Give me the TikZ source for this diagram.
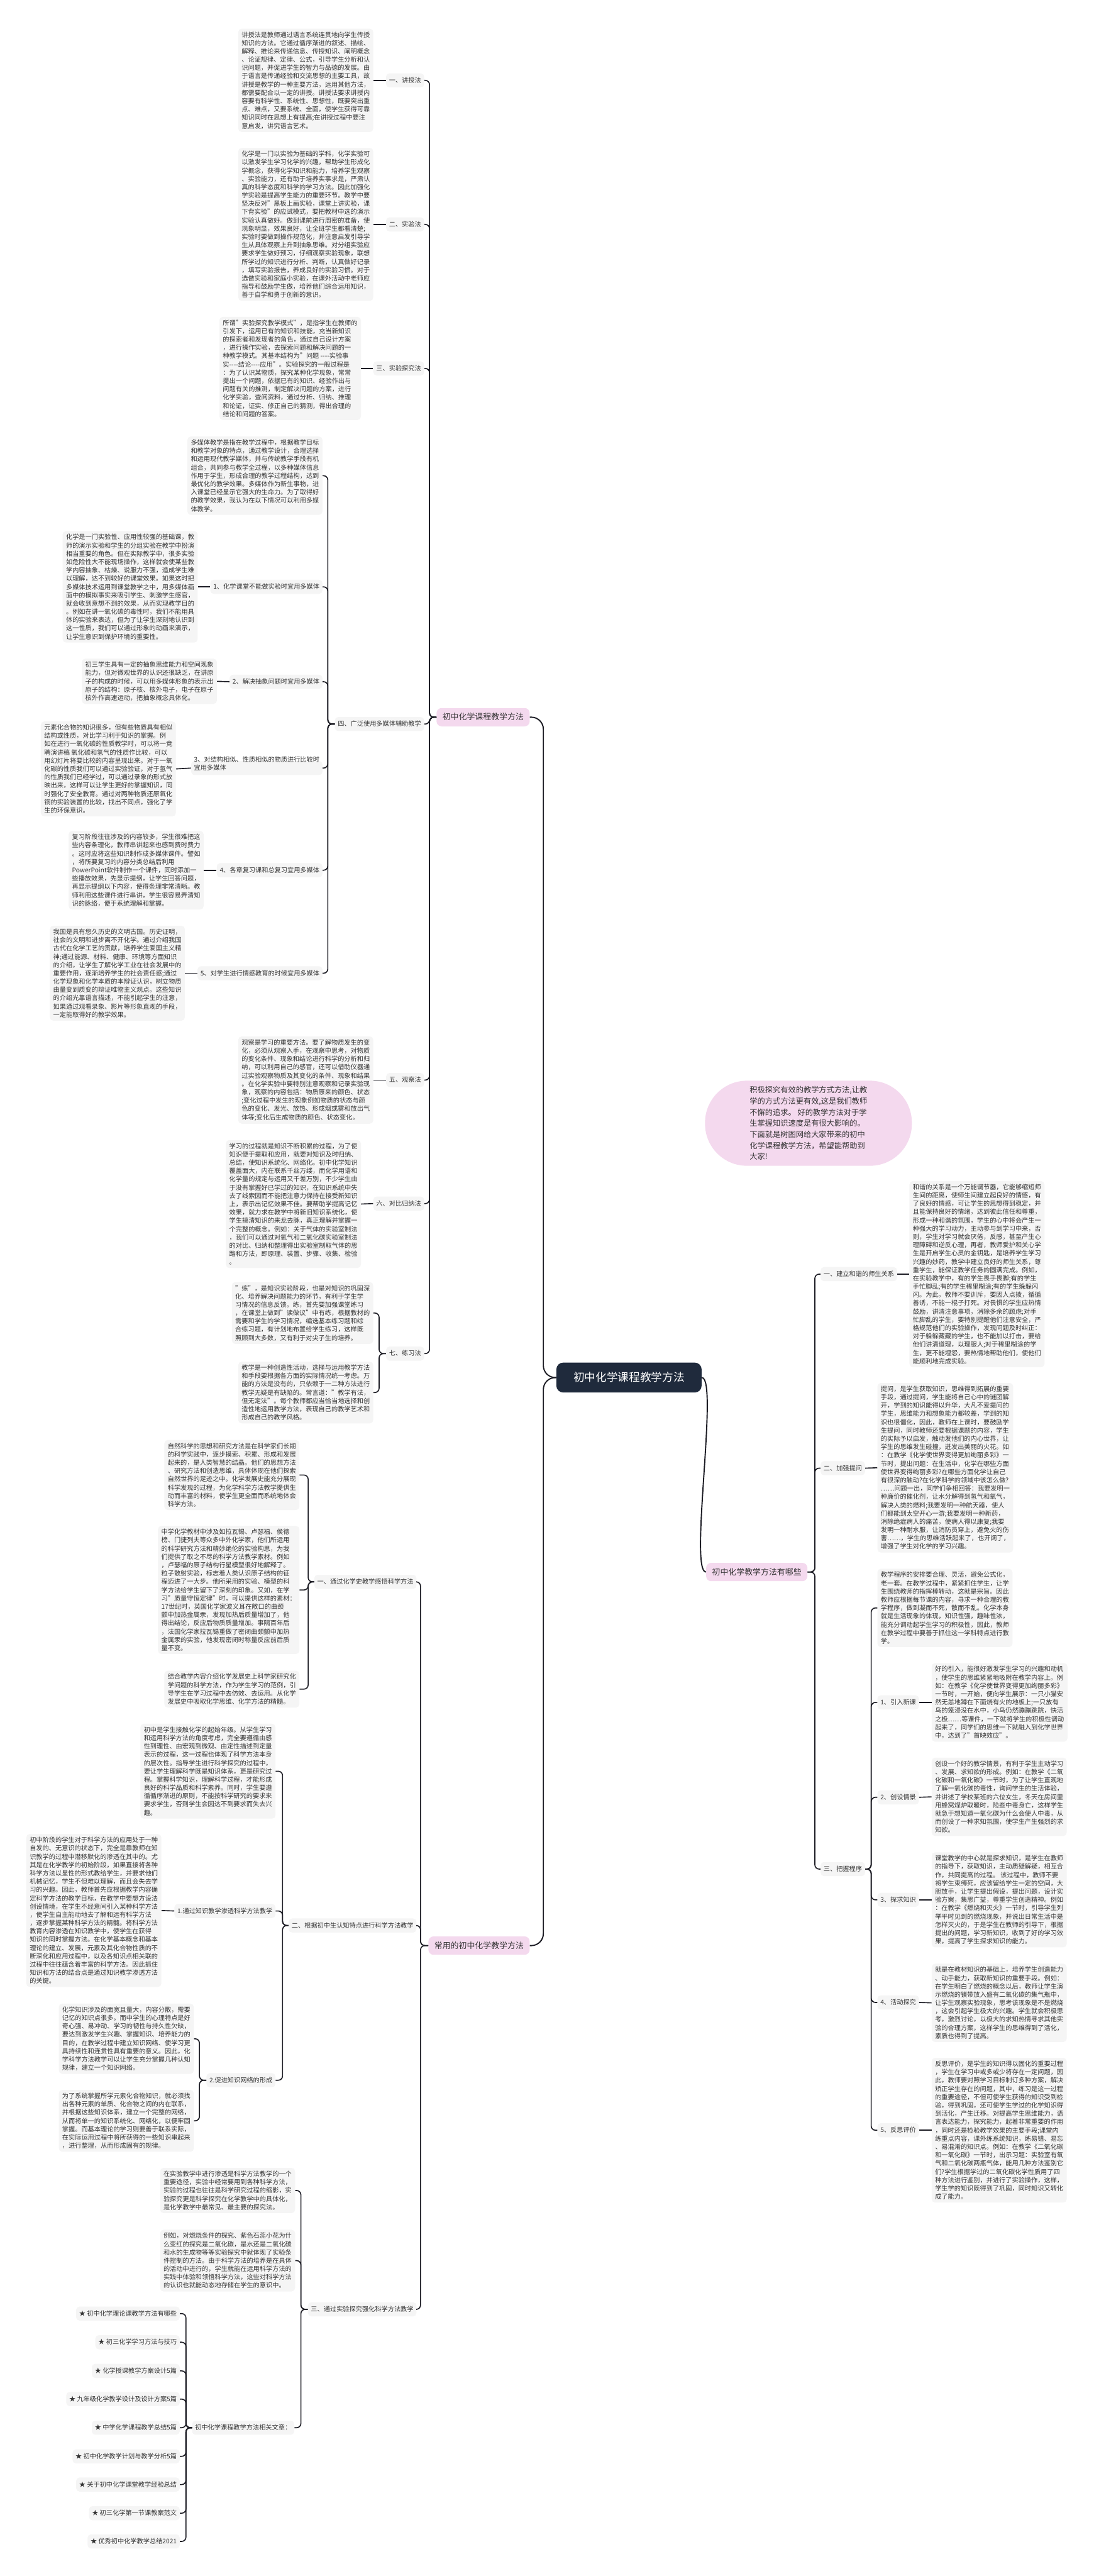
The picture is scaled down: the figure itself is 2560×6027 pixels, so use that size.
\documentclass[tikz,border=0pt]{standalone}
\usepackage{fontspec}
\setmainfont{Noto Sans CJK SC}
\definecolor{linec}{HTML}{1C1C24}
\definecolor{boxc}{HTML}{F5F5F5}
\definecolor{txtc}{HTML}{333333}
\definecolor{pinkc}{HTML}{F4D9EE}
\definecolor{rootc}{HTML}{1F2A3C}
\tikzset{
 blk/.style={fill=boxc, rounded corners=4pt, inner xsep=4pt, inner ysep=3.5pt, align=left, font=\fontsize{7.5}{9.7}\selectfont, text=txtc},
 lbl/.style={fill=boxc, rounded corners=4pt, inner xsep=3.5pt, inner ysep=4.5pt, align=left, font=\fontsize{7.5}{9.7}\selectfont, text=txtc, text height=6.4pt, text depth=1.1pt},
 mainn/.style={fill=pinkc, rounded corners=6pt, inner xsep=7pt, inner ysep=6pt, font=\fontsize{9.5}{11}\selectfont, text=txtc, text height=8pt, text depth=1.5pt},
 rootn/.style={fill=rootc, rounded corners=8pt, text=white, font=\fontsize{13}{15}\selectfont, inner xsep=20pt, inner ysep=11pt, text height=11pt, text depth=2pt},
 bubn/.style={fill=pinkc, rounded corners=49pt, minimum width=242pt, minimum height=99.5pt, align=left, font=\fontsize{9}{13}\selectfont, text=txtc},
 conn/.style={draw=linec, line width=1.2pt, rounded corners=5pt},
 rconn/.style={draw=linec, line width=1.4pt, rounded corners=14pt},
}
\begin{document}
\begin{tikzpicture}[x=0.5pt,y=-0.5pt]
\fill[white] (0,0) rectangle (2560,6027);
\useasboundingbox (0,0) rectangle (2560,6027);

% ---------------- root and bubble
\node[rootn] (root) at (1472,3223) {初中化学课程教学方法};
\node[bubn] (bub) at (1892,2628) {积极探究有效的教学方式方法,让教\\%
学的方式方法更有效,这是我们教师\\%
不懈的追求。 好的教学方法对于学\\%
生掌握知识速度是有很大影响的。\\%
下面就是树图网给大家带来的初中\\%
化学课程教学方法，希望能帮助到\\%
大家!};

% ---------------- main nodes
\node[mainn, anchor=east] (b1) at (1240,1678) {初中化学课程教学方法};
\node[mainn, anchor=east] (b2) at (1890,3678) {初中化学教学方法有哪些};
\node[mainn, anchor=east] (b3) at (1240,4552) {常用的初中化学教学方法};

% ================= Branch 1
\node[lbl, anchor=east] (a1) at (993,188) {一、讲授法};
\node[blk, anchor=east] (a1t) at (874,188) {讲授法是教师通过语言系统连贯地向学生传授\\%
知识的方法。它通过循序渐进的叙述、描绘、\\%
解释、推论来传递信息、传授知识、阐明概念\\%
、论证规律、定律、公式，引导学生分析和认\\%
识问题，并促进学生的智力与品德的发展。由\\%
于语言是传递经验和交流思想的主要工具，故\\%
讲授是教学的一种主要方法，运用其他方法，\\%
都需要配合以一定的讲授。讲授法要求讲授内\\%
容要有科学性、系统性、思想性，既要突出重\\%
点、难点，又要系统、全面，使学生获得可靠\\%
知识同时在思想上有提高;在讲授过程中要注\\%
意启发，讲究语言艺术。};

\node[lbl, anchor=east] (a2) at (993,525) {二、实验法};
\node[blk, anchor=east] (a2t) at (874,525) {化学是一门以实验为基础的学科，化学实验可\\%
以激发学生学习化学的兴趣，帮助学生形成化\\%
学概念，获得化学知识和能力，培养学生观察\\%
、实验能力，还有助于培养实事求是，严肃认\\%
真的科学态度和科学的学习方法。因此加强化\\%
学实验是提高学生能力的重要环节。教学中要\\%
坚决反对"黑板上画实验，课堂上讲实验，课\\%
下背实验"的应试模式，要把教材中选的演示\\%
实验认真做好。做到课前进行周密的准备，使\\%
现象明显，效果良好，让全班学生都看清楚;\\%
实验时要做到操作规范化，并注意启发引导学\\%
生从具体观察上升到抽象思维。对分组实验应\\%
要求学生做好预习，仔细观察实验现象，联想\\%
所学过的知识进行分析、判断，认真做好记录\\%
，填写实验报告，养成良好的实验习惯。对于\\%
选做实验和家庭小实验，在课外活动中老师应\\%
指导和鼓励学生做，培养他们综合运用知识，\\%
善于自学和勇于创新的意识。};

\node[lbl, anchor=east] (a3) at (993,862) {三、实验探究法};
\node[blk, anchor=east] (a3t) at (845,862) {所谓"实验探究教学模式"，是指学生在教师的\\%
引发下，运用已有的知识和技能，充当新知识\\%
的探索者和发现者的角色，通过自己设计方案\\%
，进行操作实验，去探索问题和解决问题的一\\%
种教学模式。其基本结构为"问题 -{}-{}-{}-实验事\\%
实-{}-{}-{}-结论-{}-{}-{}-应用"。实验探究的一般过程是\\%
：为了认识某物质，探究某种化学现象，常常\\%
提出一个问题，依据已有的知识、经验作出与\\%
问题有关的推测，制定解决问题的方案，进行\\%
化学实验，查阅资料，通过分析、归纳、推理\\%
和论证，证实、修正自己的猜测，得出合理的\\%
结论和问题的答案。};

\node[lbl, anchor=east] (a4) at (993,1694) {四、广泛使用多媒体辅助教学};
\node[blk, anchor=east] (a4t0) at (755,1113) {多媒体教学是指在教学过程中，根据教学目标\\%
和教学对象的特点，通过教学设计，合理选择\\%
和运用现代教学媒体，并与传统教学手段有机\\%
组合，共同参与教学全过程，以多种媒体信息\\%
作用于学生，形成合理的教学过程结构，达到\\%
最优化的教学效果。多媒体作为新生事物，进\\%
入课堂已经显示它强大的生命力。为了取得好\\%
的教学效果，我认为在以下情况可以利用多媒\\%
体教学。};
\node[lbl, anchor=east] (a41) at (755,1373) {1、化学课堂不能做实验时宜用多媒体};
\node[blk, anchor=east] (a41t) at (463,1373) {化学是一门实验性、应用性较强的基础课，教\\%
师的演示实验和学生的分组实验在教学中扮演\\%
相当重要的角色。但在实际教学中，很多实验\\%
如危险性大不能现场操作，这样就会使某些教\\%
学内容抽象、枯燥、说服力不强，造成学生难\\%
以理解，达不到较好的课堂效果。如果这时把\\%
多媒体技术运用到课堂教学之中，用多媒体画\\%
面中的模拟事实来吸引学生、刺激学生感官，\\%
就会收到意想不到的效果，从而实现教学目的\\%
。例如在讲一氧化碳的毒性时，我们不能用具\\%
体的实验来表达，但为了让学生深刻地认识到\\%
这一性质，我们可以通过形象的动画来演示，\\%
让学生意识到保护环境的重要性。};
\node[lbl, anchor=east] (a42) at (755,1595) {2、解决抽象问题时宜用多媒体};
\node[blk, anchor=east] (a42t) at (508,1594) {初三学生具有一定的抽象思维能力和空间现象\\%
能力，但对微观世界的认识还很缺乏，在讲原\\%
子的构成的时候，可以用多媒体形象的表示出\\%
原子的结构：原子核、核外电子，电子在原子\\%
核外作高速运动，把抽象概念具体化。};
\node[lbl, anchor=east] (a43) at (755,1797) {3、对结构相似、性质相似的物质进行比较时\\宜用多媒体};
\node[blk, anchor=east] (a43t) at (412,1799) {元素化合物的知识很多，但有些物质具有相似\\%
结构或性质，对比学习利于知识的掌握。例\\%
如在进行一氧化碳的性质教学时，可以将一竞\\%
聘演讲稿 氧化碳和氢气的性质作比较，可以\\%
用幻灯片将要比较的内容呈现出来。对于一氧\\%
化碳的性质我们可以通过实验验证，对于氢气\\%
的性质我们已经学过，可以通过录象的形式放\\%
映出来，这样可以让学生更好的掌握知识，同\\%
时强化了安全教育。通过对两种物质还原氧化\\%
铜的实验装置的比较，找出不同点，强化了学\\%
生的环保意识。};
\node[lbl, anchor=east] (a44) at (755,2036) {4、各章复习课和总复习宜用多媒体};
\node[blk, anchor=east] (a44t) at (477,2036) {复习阶段往往涉及的内容较多，学生很难把这\\%
些内容条理化，教师串讲起来也感到费时费力\\%
。这时应将这些知识制作成多媒体课件。譬如\\%
，将所要复习的内容分类总结后利用\\%
PowerPoint软件制作一个课件，同时添加一\\%
些播放效果，先显示提纲，让学生回答问题，\\%
再显示提纲以下内容，使得条理非常清晰。教\\%
师利用这些课件进行串讲，学生很容易弄清知\\%
识的脉络，便于系统理解和掌握。};
\node[lbl, anchor=east] (a45) at (755,2277) {5、对学生进行情感教育的时候宜用多媒体};
\node[blk, anchor=east] (a45t) at (433,2277) {我国是具有悠久历史的文明古国。历史证明，\\%
社会的文明和进步离不开化学。通过介绍我国\\%
古代在化学工艺的贡献，培养学生爱国主义精\\%
神;通过能源、材料、健康、环境等方面知识\\%
的介绍，让学生了解化学工业在社会发展中的\\%
重要作用，逐渐培养学生的社会责任感;通过\\%
化学现象和化学本质的本辩证认识，树立物质\\%
由量变到质变的辩证唯物主义观点。这些知识\\%
的介绍光靠语言描述，不能引起学生的注意，\\%
如果通过观看录象、影片等形象直观的手段，\\%
一定能取得好的教学效果。};

\node[lbl, anchor=east] (a5) at (993,2527) {五、观察法};
\node[blk, anchor=east] (a5t) at (874,2527) {观察是学习的重要方法。要了解物质发生的变\\%
化，必须从观察入手，在观察中思考，对物质\\%
的变化条件、现象和结论进行科学的分析和归\\%
纳，可以利用自己的感官，还可以借助仪器通\\%
过实验观察物质及其变化的条件、现象和结果\\%
。在化学实验中要特别注意观察和记录实验现\\%
象，观察的内容包括：物质原来的颜色、状态\\%
;变化过程中发生的现象例如物质的状态与颜\\%
色的变化、发光、放热、形成烟或雾和放出气\\%
体等;变化后生成物质的颜色、状态变化。};

\node[lbl, anchor=east] (a6) at (993,2816) {六、对比归纳法};
\node[blk, anchor=east] (a6t) at (845,2817) {学习的过程就是知识不断积累的过程，为了使\\%
知识便于提取和应用，就要对知识及时归纳、\\%
总结，使知识系统化、网络化。初中化学知识\\%
覆盖面大，内在联系千丝万缕，而化学用语和\\%
化学量的规定与运用又千差万别，不少学生由\\%
于没有掌握好已学过的知识，在知识系统中失\\%
去了线索因而不能把注意力保持在接受新知识\\%
上，表示出记忆效果不佳。要帮助学提高记忆\\%
效果，就力求在教学中将新旧知识系统化，使\\%
学生搞清知识的来龙去脉，真正理解并掌握一\\%
个完整的概念。例如：关于气体的实验室制法\\%
，我们可以通过对氧气和二氧化碳实验室制法\\%
的对比、归纳和整理得出实验室制取气体的思\\%
路和方法，即原理、装置、步骤、收集、检验\\%
。};

\node[lbl, anchor=east] (a7) at (993,3167) {七、练习法};
\node[blk, anchor=east] (a7t1) at (874,3072) {"练"，是知识实验阶段，也是对知识的巩固深\\%
化、培养解决问题能力的环节，有利于学生学\\%
习情况的信息反馈。练，首先要加强课堂练习\\%
，在课堂上做到"读做议"中有练，根据教材的\\%
需要和学生的学习情况，编选基本练习题和综\\%
合练习题，有计划地布置给学生练习，这样既\\%
照顾到大多数，又有利于对尖子生的培养。};
\node[blk, anchor=east] (a7t2) at (874,3258) {教学是一种创造性活动，选择与运用教学方法\\%
和手段要根据各方面的实际情况统一考虑。万\\%
能的方法是没有的，只依赖于一二种方法进行\\%
教学无疑是有缺陷的。常言道："教学有法，\\%
但无定法"。每个教师都应当恰当地选择和创\\%
造性地运用教学方法，表现自己的教学艺术和\\%
形成自己的教学风格。};

% ================= Branch 3
\node[lbl, anchor=east] (c1) at (975,3701) {一、通过化学史教学感悟科学方法};
\node[blk, anchor=east] (c1t1) at (701,3451) {自然科学的思想和研究方法是在科学家们长期\\%
的科学实践中，逐步摸索、积累、形成和发展\\%
起来的，是人类智慧的结晶。他们的思想方法\\%
、研究方法和创造思维，具体体现在他们探索\\%
自然世界的足迹之中。化学发展史能充分展现\\%
科学发现的过程，为化学科学方法教学提供生\\%
动而丰富的材料，使学生更全面而系统地体会\\%
科学方法。};
\node[blk, anchor=east] (c1t2) at (701,3720) {中学化学教材中涉及如拉瓦锡、卢瑟福、侯德\\%
榜、门捷列夫等众多中外化学家，他们所运用\\%
的科学研究方法和精妙绝伦的实验构思，为我\\%
们提供了取之不尽的科学方法教学素材。例如\\%
，卢瑟福的原子结构行星模型很好地解释了。\\%
粒子散射实验，标志着人类认识原子结构的征\\%
程迈进了一大步。他所采用的实验、模型的科\\%
学方法给学生留下了深刻的印象。又如，在学\\%
习"质量守恒定律"时，可以提供这样的素材：\\%
17世纪时，英国化学家波义耳在敞口的曲颈\\%
颤中加热金属汞，发现加热后质量增加了，他\\%
得出结论，反应后物质质量增加。事隔百年后\\%
，法国化学家拉瓦锡重做了密闭曲颈颤中加热\\%
金属汞的实验，他发现密闭时称量反应前后质\\%
量不变。};
\node[blk, anchor=east] (c1t3) at (701,3952) {结合教学内容介绍化学发展史上科学家研究化\\%
学问题的科学方法，作为学生学习的范例，引\\%
导学生在学习过程中去仿效、去运用。从化学\\%
发展史中吸取化学思维、化学方法的精髓。};

\node[lbl, anchor=east] (c2) at (975,4505) {二、根据初中生认知特点进行科学方法教学};
\node[blk, anchor=east] (c2t0) at (645,4144) {初中是学生接触化学的起始年级。从学生学习\\%
和运用科学方法的角度考虑，完全要遵循由感\\%
性到理性、由宏观到微观、由定性描述到定量\\%
表示的过程，这一过程也体现了科学方法本身\\%
的层次性。指导学生进行科学探究的过程中，\\%
要让学生理解科学既是知识体系，更是研究过\\%
程。掌握科学知识，理解科学过程，才能形成\\%
良好的科学品质和科学素养。同时，学生要遵\\%
循循序渐进的原则，不能按科学研究的要求来\\%
要求学生，否则学生会因达不到要求而失去兴\\%
趣。};
\node[lbl, anchor=east] (c21) at (645,4471) {1.通过知识教学渗透科学方法教学};
\node[blk, anchor=east] (c21t) at (378,4470) {初中阶段的学生对于科学方法的应用处于一种\\%
自发的、无意识的状态下，完全是靠教师在知\\%
识教学的过程中潜移默化的渗透在其中的。尤\\%
其是在化学教学的初始阶段，如果直接将各种\\%
科学方法以显性的形式教给学生，并要求他们\\%
机械记忆，学生不但难以理解，而且会失去学\\%
习的兴趣。因此，教师首先应根据教学内容确\\%
定科学方法的教学目标，在教学中要想方设法\\%
创设情境，在学生不经意间引入某种科学方法\\%
，使学生自主能动地去了解和运有科学方法\\%
，逐步掌握某种科学方法的精髓。将科学方法\\%
教育内容渗透在知识教学中，使学生在获得\\%
知识的同时掌握方法。在化学基本概念和基本\\%
理论的建立、发展，元素及其化合物性质的不\\%
断深化和应用过程中，以及各知识点相关联的\\%
过程中往往蕴含着丰富的科学方法。因此抓住\\%
知识和方法的结合点是通过知识教学渗透方法\\%
的关键。};
\node[lbl, anchor=east] (c22) at (645,4867) {2.促进知识网络的形成};
\node[blk, anchor=east] (c22t1) at (454,4770) {化学知识涉及的面宽且量大，内容分散，需要\\%
记忆的知识点很多。而中学生的心理特点是好\\%
奇心强、易冲动、学习的韧性与持久性欠缺，\\%
要达到激发学生兴趣、掌握知识、培养能力的\\%
目的，在教学过程中建立知识网络、使学习更\\%
具持续性和连贯性具有重要的意义。因此，化\\%
学科学方法教学可以让学生充分掌握几种认知\\%
规律，建立一个知识网络。};
\node[blk, anchor=east] (c22t2) at (454,4962) {为了系统掌握所学元素化合物知识，就必须找\\%
出各种元素的单质、化合物之间的内在联系，\\%
并根据这些知识体系，建立一个完整的网络，\\%
从而将单一的知识系统化、网络化，以便牢固\\%
掌握。而基本理论的学习则要善于联系实际，\\%
在实际运用过程中将所获得的一些知识串起来\\%
，进行整理，从而形成固有的规律。};

\node[lbl, anchor=east] (c3) at (975,5403) {三、通过实验探究强化科学方法教学};
\node[blk, anchor=east] (c3t1) at (691,5125) {在实验教学中进行渗透是科学方法教学的一个\\%
重要途径，实验中经常要用到各种科学方法，\\%
实验的过程也往往是科学研究过程的缩影，实\\%
验探究更是科学探究在化学教学中的具体化，\\%
是化学教学中最常见、最主要的探究法。};
\node[blk, anchor=east] (c3t2) at (691,5289) {例如，对燃烧条件的探究、紫色石蕊小花为什\\%
么变红的探究是二氧化碳，是水还是二氧化碳\\%
和水的生成物等等实验探究中就体现了实验条\\%
件控制的方法。由于科学方法的培养是在具体\\%
的活动中进行的，学生就能在运用科学方法的\\%
实践中体验和领悟科学方法，这些对科学方法\\%
的认识也就能动态地存储在学生的意识中。};
\node[lbl, anchor=east] (c33) at (689,5680) {初中化学课程教学方法相关文章：};
\node[lbl, anchor=east] (i1) at (421,5413) {★ 初中化学理论课教学方法有哪些};
\node[lbl, anchor=east] (i2) at (421,5480) {★ 初三化学学习方法与技巧};
\node[lbl, anchor=east] (i3) at (421,5547) {★ 化学授课教学方案设计5篇};
\node[lbl, anchor=east] (i4) at (421,5613) {★ 九年级化学教学设计及设计方案5篇};
\node[lbl, anchor=east] (i5) at (421,5680) {★ 中学化学课程教学总结5篇};
\node[lbl, anchor=east] (i6) at (421,5747) {★ 初中化学教学计划与教学分析5篇};
\node[lbl, anchor=east] (i7) at (421,5813) {★ 关于初中化学课堂教学经验总结};
\node[lbl, anchor=east] (i8) at (421,5880) {★ 初三化学第一节课教案范文};
\node[lbl, anchor=east] (i9) at (421,5946) {★ 优秀初中化学教学总结2021};

% ================= Branch 2 (right)
\node[lbl, anchor=west] (r1) at (1920,2981) {一、建立和谐的师生关系};
\node[blk, anchor=west] (r1t) at (2128,2981) {和谐的关系是一个万能调节器，它能够缩短师\\%
生间的距离，使师生间建立起良好的情感，有\\%
了良好的情感，可让学生的思想得到稳定，并\\%
且能保持良好的情绪，达到彼此信任和尊重，\\%
形成一种和谐的氛围，学生的心中将会产生一\\%
种强大的学习动力，主动参与到学习中来，否\\%
则，学生对学习就会厌倦，反感，甚至产生心\\%
理障碍和逆反心理，再者，教师爱护和关心学\\%
生是开启学生心灵的金钥匙，是培养学生学习\\%
兴趣的妙药，教学中建立良好的师生关系，尊\\%
重学生，能保证教学任务的圆满完成。例如，\\%
在实验教学中，有的学生畏手畏脚;有的学生\\%
手忙脚乱;有的学生稀里糊涂;有的学生躲躲闪\\%
闪。为此，教师不要训斥，要因人点拨，循循\\%
善诱，不能一棍子打死。对畏惧的学生应热情\\%
鼓励，讲清注意事项，消除多余的顾虑;对手\\%
忙脚乱的学生，要特别提醒他们注意安全，严\\%
格规范他们的实验操作，发现问题及时纠正：\\%
对于躲躲藏藏的学生，也不能加以打击，要给\\%
他们讲清道理，以理服人;对于稀里糊涂的学\\%
生，更不能埋怨，要热情地帮助他们，使他们\\%
能顺利地完成实验。};

\node[lbl, anchor=west] (r2) at (1920,3435) {二、加强提问};
\node[blk, anchor=west] (r2t) at (2053,3434) {提问，是学生获取知识，思维得到拓展的重要\\%
手段，通过提问，学生能将自己心中的谜团解\\%
开，学到的知识能得以升华，大凡不爱提问的\\%
学生，思维能力和想象能力都较差，学到的知\\%
识也很僵化，因此，教师在上课时，要鼓励学\\%
生提问，同时教师还要根据课题的内容，学生\\%
的实际予以启发，触动发他们的内心世界，让\\%
学生的思维发生碰撞，迸发出美丽的火花。如\\%
：在教学《化学使世界变得更加绚丽多彩》一\\%
节时，提出问题：在生活中，化学在哪些方面\\%
使世界变得绚丽多彩?在哪些方面化学让自己\\%
有很深的触动?在化学科学的领域中该怎么做?\\%
……问题一出，同学们争相回答：我要发明一\\%
种廉价的催化剂，让水分解得到氢气和氧气，\\%
解决人类的燃料;我要发明一种航天器，使人\\%
们都能到太空开心一游;我要发明一种新药，\\%
消除绝症病人的痛苦，使病人得以康复;我要\\%
发明一种耐水服，让消防员穿上，避免火的伤\\%
害……，学生的思维活跃起来了，也开阔了，\\%
增强了学生对化学的学习兴趣。};

\node[lbl, anchor=west] (r3) at (1920,4373) {三、把握程序};
\node[blk, anchor=west] (r3t0) at (2053,3762) {教学程序的安排要合理、灵活，避免公式化，\\%
老一套。在教学过程中，紧紧抓住学生，让学\\%
生围绕教师的指挥棒转动，这就是宗旨。因此\\%
教师应根据每节课的内容，寻求一种合理的教\\%
学程序，做到凝而不死，散而不乱。化学本身\\%
就是生活现象的体现，知识性强，趣味性浓，\\%
能充分调动起学生学习的积极性，因此，教师\\%
在教学过程中要善于抓住这一学科特点进行教\\%
学。};
\node[lbl, anchor=west] (s1) at (2053,3983) {1、引入新课};
\node[blk, anchor=west] (s1t) at (2180,3983) {好的引入，能很好激发学生学习的兴趣和动机\\%
，使学生的思维紧紧地吸附在教学内容上。例\\%
如：在教学《化学使世界变得更加绚丽多彩》\\%
一节时，一开始，便向学生展示：一只小猫安\\%
然无恙地蹲在下面烧有火的地板上;一只放有\\%
鸟的笼浸没在水中，小鸟仍然蹦蹦跳跳，快活\\%
之极……等课件，一下就将学生的积极性调动\\%
起来了，同学们的思维一下就融入到化学世界\\%
中，达到了"首映效应"。};
\node[lbl, anchor=west] (s2) at (2053,4205) {2、创设情景};
\node[blk, anchor=west] (s2t) at (2180,4204) {创设一个好的教学情景，有利于学生主动学习\\%
、发展、求知欲的形成。例如：在教学《二氧\\%
化碳和一氧化碳》一节时，为了让学生直观地\\%
了解一氧化碳的毒性，询问学生的生活体验，\\%
并讲述了学校某班的六位女生，冬天在房间里\\%
用蜂窝煤炉取暖时，险些中毒身亡，这样学生\\%
就急于想知道一氧化碳为什么会使人中毒，从\\%
而创设了一种求知氛围，使学生产生强烈的求\\%
知欲。};
\node[lbl, anchor=west] (s3) at (2053,4445) {3、探求知识};
\node[blk, anchor=west] (s3t) at (2180,4445) {课堂教学的中心就是探求知识，是学生在教师\\%
的指导下，获取知识，主动质疑解疑，相互合\\%
作，共同提高的过程。 该过程中，教师不要\\%
将学生束缚死，应该留给学生一定的空间，大\\%
胆放手，让学生提出假设，提出问题，设计实\\%
验方案，集思广益，尊重学生创造精神。例如\\%
：在教学《燃烧和灭火》一节时，引导学生列\\%
举平时见到的燃烧现象，并说出日常生活中是\\%
怎样灭火的，于是学生在教师的引导下，根据\\%
提出的问题，学习新知识，收到了好的学习效\\%
果，提高了学生探求知识的能力。};
\node[lbl, anchor=west] (s4) at (2053,4685) {4、活动探究};
\node[blk, anchor=west] (s4t) at (2180,4686) {就是在教材知识的基础上，培养学生创造能力\\%
、动手能力，获取新知识的重要手段。例如：\\%
在学生明白了燃烧的概念以后，教师让学生演\\%
示燃烧的镁带放入盛有二氧化碳的集气瓶中，\\%
让学生观察实验现象，思考该现象是不是燃烧\\%
，这会引起学生极大的兴趣。学生就会积极思\\%
考，激烈讨论，以极大的求知热情寻求其他实\\%
验的合理方案，这样学生的思维得到了活化，\\%
素质也得到了提高。};
\node[lbl, anchor=west] (s5) at (2053,4984) {5、反思评价};
\node[blk, anchor=west] (s5t) at (2180,4984) {反思评价，是学生的知识得以固化的重要过程\\%
，学生在学习中或多或少将存在一定问题，因\\%
此，教师要对照学习目标制订多种方案，解决\\%
矫正学生存在的问题，其中，练习是这一过程\\%
的重要途径，不但可使学生获得的知识受到检\\%
验，得到巩固，还可使学生学过的化学知识得\\%
到活化，产生迁移。对提高学生思维能力，语\\%
言表达能力，探究能力，起着非常重要的作用\\%
，同时还是检验教学效果的主要手段;课堂内\\%
练重点内容，课外练系统知识，练易错、易忘\\%
、易混淆的知识点。例如：在教学《二氧化碳\\%
和一氧化碳》一节时，出示习题：实验室有氧\\%
气和二氧化碳两瓶气体，能用几种方法鉴别它\\%
们?学生根据学过的二氧化碳化学性质用了四\\%
种方法进行鉴别，并进行了实验操作，这样，\\%
学生学的知识既得到了巩固，同时知识又转化\\%
成了能力。};

% ================= connectors
\draw[rconn] (root.west) -- ++(-30,0) |- (b1.east);
\draw[rconn] (root.west) -- ++(-30,0) |- (b3.east);
\draw[rconn] (root.east) .. controls +(40,0) and +(-40,0) .. (b2.west);

\foreach \c in {a1,a2,a3,a4,a5,a6,a7} \draw[conn] (b1.west) -- ++(-16,0) |- (\c.east);
\foreach \c in {a1,a2,a3,a5,a6,a41,a42,a43,a44,a45} \draw[conn] (\c.west) -- (\c t.east);
\foreach \c in {a4t0,a41,a42,a43,a44,a45} \draw[conn] (a4.west) -- ++(-16,0) |- (\c.east);
\foreach \c in {a7t1,a7t2} \draw[conn] (a7.west) -- ++(-16,0) |- (\c.east);

\foreach \c in {c1,c2,c3} \draw[conn] (b3.west) -- ++(-18,0) |- (\c.east);
\foreach \c in {c1t1,c1t2,c1t3} \draw[conn] (c1.west) -- ++(-14,0) |- (\c.east);
\foreach \c in {c2t0,c21,c22} \draw[conn] (c2.west) -- ++(-14,0) |- (\c.east);
\draw[conn] (c21.west) -- (c21t.east);
\foreach \c in {c22t1,c22t2} \draw[conn] (c22.west) -- ++(-16,0) |- (\c.east);
\foreach \c in {c3t1,c3t2,c33} \draw[conn] (c3.west) -- ++(-16,0) |- (\c.east);
\foreach \c in {i1,i2,i3,i4,i5,i6,i7,i8,i9} \draw[conn] (c33.west) -- ++(-14,0) |- (\c.east);

\foreach \c in {r1,r2,r3} \draw[conn] (b2.east) -- ++(17,0) |- (\c.west);
\draw[conn] (r1.east) -- (r1t.west);
\draw[conn] (r2.east) -- (r2t.west);
\foreach \c in {r3t0,s1,s2,s3,s4,s5} \draw[conn] (r3.east) -- ++(14,0) |- (\c.west);
\foreach \c in {s1,s2,s3,s4,s5} \draw[conn] (\c.east) -- (\c t.west);
\end{tikzpicture}
\end{document}
